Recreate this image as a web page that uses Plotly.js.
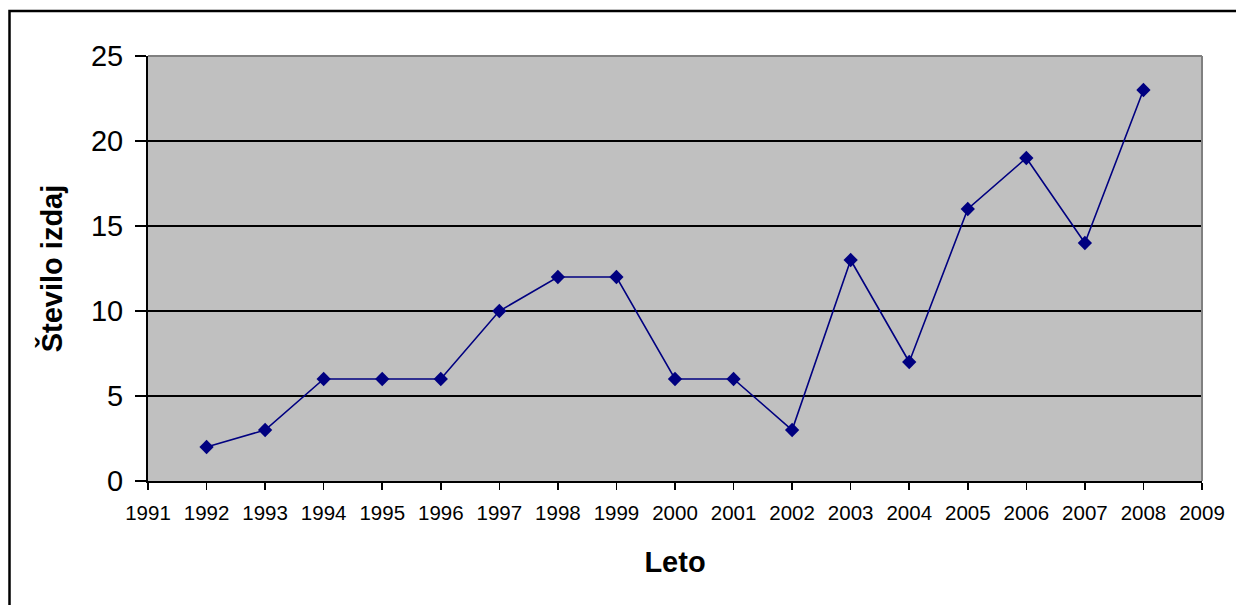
<!DOCTYPE html>
<html>
<head>
<meta charset="utf-8">
<script src="https://cdn.plot.ly/plotly-3.0.1.min.js"></script>
<style>
  html, body { margin: 0; padding: 0; background: #fff; }
  #chart { width: 1236px; height: 605px; }
</style>
</head>
<body>
<div id="chart"></div>
<script>
const years = [1992, 1993, 1994, 1995, 1996, 1997, 1998, 1999, 2000, 2001, 2002, 2003, 2004, 2005, 2006, 2007, 2008];
const counts = [2, 3, 6, 6, 6, 10, 12, 12, 6, 6, 3, 13, 7, 16, 19, 14, 23];
const xTitle = 'Leto';
const yTitle = 'Število izdaj';

const trace = {
  x: years,
  y: counts,
  type: 'scatter',
  mode: 'lines+markers',
  line: { color: '#000080', width: 1.6 },
  marker: { symbol: 'diamond', size: 11, color: '#000080' },
  hoverinfo: 'x+y'
};

const PL = 148, PR = 1202, PT = 56, PB = 481;
const W = PR - PL, H = PB - PT;
function px(x) { return (x - PL) / W; }
function py(y) { return (PB - y) / H; }

const layout = {
  width: 1236,
  height: 605,
  margin: { l: PL, r: 1236 - PR, t: PT, b: 605 - PB, pad: 0 },
  paper_bgcolor: '#ffffff',
  plot_bgcolor: '#c0c0c0',
  showlegend: false,
  font: { family: 'Liberation Sans, Arial, sans-serif', color: '#000' },
  xaxis: {
    range: [1991, 2009],
    tickmode: 'linear',
    tick0: 1991,
    dtick: 1,
    showgrid: false,
    zeroline: false,
    showline: true,
    linecolor: '#000',
    linewidth: 2,
    ticks: 'outside',
    ticklen: 7,
    tickwidth: 1.5,
    tickcolor: '#000',
    ticklabelstandoff: 5,
    tickfont: { size: 20.5, color: '#000' },
    title: { text: xTitle, font: { size: 29, color: '#000', weight: 'bold' }, standoff: 29 }
  },
  yaxis: {
    range: [0, 25],
    tickmode: 'linear',
    tick0: 0,
    dtick: 5,
    showgrid: true,
    gridcolor: '#000',
    gridwidth: 1.5,
    zeroline: false,
    showline: true,
    linecolor: '#000',
    linewidth: 2,
    ticks: 'outside',
    ticklen: 11,
    tickwidth: 1.5,
    tickcolor: '#000',
    ticklabelstandoff: 6,
    tickfont: { size: 29, color: '#000' },
    title: { text: yTitle, font: { size: 29, color: '#000', weight: 'bold' }, standoff: 20 }
  },
  shapes: [
    { type: 'line', xref: 'paper', yref: 'paper', x0: 0, x1: 1, y0: 1, y1: 1,
      line: { color: '#808080', width: 2 }, layer: 'above' },
    { type: 'line', xref: 'paper', yref: 'paper', x0: 1, x1: 1, y0: 0, y1: 1,
      line: { color: '#808080', width: 2 }, layer: 'above' },
    { type: 'rect', xref: 'paper', yref: 'paper',
      x0: px(9.5), x1: px(1260), y0: py(640), y1: py(11),
      line: { color: '#000', width: 2.5 }, fillcolor: 'rgba(0,0,0,0)', layer: 'above' }
  ]
};

Plotly.newPlot('chart', [trace], layout, { displayModeBar: false, staticPlot: true });
</script>
</body>
</html>
